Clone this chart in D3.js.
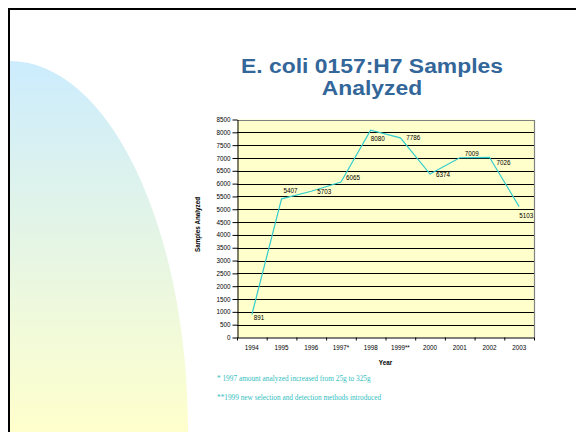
<!DOCTYPE html>
<html>
<head>
<meta charset="utf-8">
<script src="https://cdn.jsdelivr.net/npm/d3@7"></script>
<style>
  html, body { margin: 0; padding: 0; background: #fff; }
  svg { display: block; }
</style>
</head>
<body>
<svg id="chart" width="576" height="432"></svg>
<script>
// ---- data ----
const years = ["1994", "1995", "1996", "1997*", "1998", "1999**", "2000", "2001", "2002", "2003"];
const samples = [891, 5407, 5703, 6065, 8080, 7786, 6374, 7009, 7026, 5103];
const labelPlacement = ["belowRight", "above", "right", "upRight", "below", "right", "right", "upRight", "downRight", "below"];
const yTicks = d3.range(0, 8501, 500);
const titleLines = ["E. coli 0157:H7 Samples", "Analyzed"];
const yTitle = "Samples Analyzed";
const xTitle = "Year";
const footnotes = ["* 1997 amount analyzed increased from 25g to 325g", "**1999 new selection and detection methods introduced"];

(function () {
const svg = d3.select("#chart");
const W = 576, H = 432;

// ---- background decoration ----
const defs = svg.append("defs");
const grad = defs.append("linearGradient").attr("id", "bgGrad")
  .attr("x1", 0).attr("y1", 0).attr("x2", 0).attr("y2", 1);
grad.append("stop").attr("offset", "0%").attr("stop-color", "#ccecfd");
grad.append("stop").attr("offset", "100%").attr("stop-color", "#ffffcc");

svg.append("rect").attr("width", W).attr("height", H).attr("fill", "#fff");
svg.append("path")
  .attr("d", "M10,61 A178,371 0 0 1 188,432 L10,432 Z")
  .attr("fill", "url(#bgGrad)");

// frame
svg.append("path").attr("d", "M9,432 L9,9 L576,9")
  .attr("fill", "none").attr("stroke", "#000").attr("stroke-width", 2);

// ---- title ----
const titleSize = 21;
const titleStretch = 1.09;
titleLines.forEach((t, i) => {
  svg.append("text")
    .attr("transform", `translate(372,${73 + i * 22}) scale(${titleStretch},1)`)
    .attr("text-anchor", "middle")
    .attr("font-family", "Liberation Sans, Arial, sans-serif")
    .attr("font-weight", "bold")
    .attr("font-size", titleSize)
    .attr("fill", "#336699")
    .text(t);
});

// ---- chart ----
const pL = 237, pR = 534, pT = 119.5, pB = 337.5;
const x = d3.scaleBand().domain(years).range([pL, pR]).padding(0);
const y = d3.scaleLinear().domain([0, 8500]).range([pB, pT]);

svg.append("rect")
  .attr("x", pL).attr("y", pT)
  .attr("width", pR - pL).attr("height", pB - pT)
  .attr("fill", "#ffffcc");

// gridlines
svg.append("g").selectAll("line")
  .data(yTicks.filter(v => v > 0 && v < 8500))
  .join("line")
  .attr("x1", pL).attr("x2", pR)
  .attr("y1", d => Math.round(y(d)) + 0.5).attr("y2", d => Math.round(y(d)) + 0.5)
  .attr("stroke", "#000").attr("stroke-width", 1);

// plot border top & right (grey)
svg.append("path")
  .attr("d", `M${pL},${Math.round(pT) + 0.5} L${pR + 0.5},${Math.round(pT) + 0.5} L${pR + 0.5},${pB}`)
  .attr("fill", "none").attr("stroke", "#808080").attr("stroke-width", 1.2);

const fontAxis = "Liberation Sans, Arial, sans-serif";

// y axis
const yAxis = d3.axisLeft(y).tickValues(yTicks).tickFormat(d3.format("d"))
  .tickSize(5).tickSizeOuter(0).tickPadding(2);
const gy = svg.append("g").attr("transform", `translate(${pL + 0.5},0)`).call(yAxis);
gy.select(".domain").attr("stroke", "#000");
gy.selectAll(".tick line").attr("stroke", "#000");
gy.selectAll(".tick text").attr("font-family", fontAxis).attr("font-size", 6.3).attr("fill", "#000");

// x axis: labels centered on bands, ticks on band boundaries
const xb = d3.scaleLinear().domain([0, years.length]).range([pL, pR]);
const xAxisTicks = d3.axisBottom(xb).tickValues(d3.range(0, years.length + 1)).tickSize(3).tickSizeOuter(0).tickFormat("");
const gx = svg.append("g").attr("transform", `translate(0,${pB})`).call(xAxisTicks);
gx.select(".domain").attr("stroke", "#000");
gx.selectAll(".tick line").attr("stroke", "#000");

const xLabels = d3.axisBottom(x).tickSize(0).tickPadding(8);
const gxl = svg.append("g").attr("transform", `translate(0,${pB})`).call(xLabels);
gxl.select(".domain").remove();
gxl.selectAll(".tick text").attr("font-family", fontAxis).attr("font-size", 6.3).attr("fill", "#000");

// axis titles
svg.append("text")
  .attr("x", (pL + pR) / 2).attr("y", 365)
  .attr("text-anchor", "middle")
  .attr("font-family", fontAxis).attr("font-weight", "bold").attr("font-size", 6.3)
  .text(xTitle);
svg.append("text")
  .attr("transform", `translate(200,${(pT + pB) / 2 - 4}) rotate(-90)`)
  .attr("text-anchor", "middle")
  .attr("font-family", fontAxis).attr("font-weight", "bold").attr("font-size", 6.3)
  .text(yTitle);

// line
const data = years.map((yr, i) => ({ yr, v: samples[i], pos: labelPlacement[i] }));
const cx = d => x(d.yr) + x.bandwidth() / 2;
svg.append("path")
  .datum(data)
  .attr("fill", "none")
  .attr("stroke", "#33cccc")
  .attr("stroke-width", 1.2)
  .attr("d", d3.line().x(cx).y(d => y(d.v)));

// data labels
const offsets = {
  belowRight: { dx: 2, dy: 5, anchor: "start" },
  above: { dx: 2, dy: -6, anchor: "start" },
  right: { dx: 6, dy: 2.5, anchor: "start" },
  upRight: { dx: 5, dy: -1.5, anchor: "start" },
  below: { dx: 7, dy: 11, anchor: "middle" },
  downRight: { dx: 7, dy: 8, anchor: "start" }
};
svg.append("g").selectAll("text")
  .data(data)
  .join("text")
  .attr("x", d => cx(d) + offsets[d.pos].dx)
  .attr("y", d => y(d.v) + offsets[d.pos].dy)
  .attr("text-anchor", d => offsets[d.pos].anchor)
  .attr("font-family", fontAxis).attr("font-size", 6.3).attr("fill", "#000")
  .text(d => d.v);

// footnotes
svg.append("g").selectAll("text")
  .data(footnotes)
  .join("text")
  .attr("x", 217)
  .attr("y", (d, i) => 380.5 + i * 19.5)
  .attr("font-family", "Liberation Serif, Times New Roman, serif")
  .attr("font-size", 7.3)
  .attr("fill", "#33c0c0")
  .text(d => d);
})();
</script>
</body>
</html>
